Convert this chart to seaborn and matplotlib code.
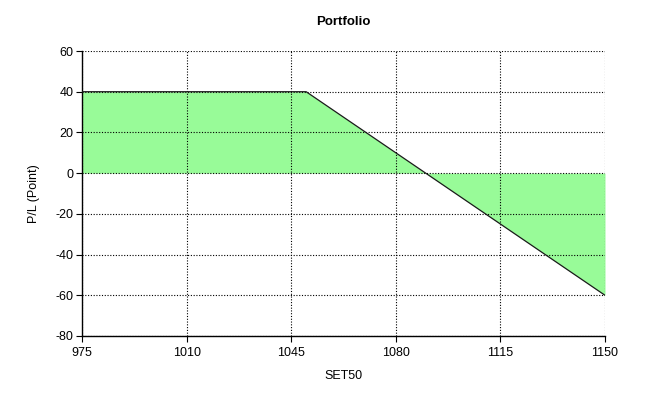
import matplotlib
matplotlib.use("Agg")
import matplotlib.pyplot as plt
import seaborn as sns
import numpy as np
import pandas as pd

x_vals = [975, 1050, 1150]
pl_vals = [40, 40, -60]
x_ticks = [975, 1010, 1045, 1080, 1115, 1150]
y_ticks = [-80, -60, -40, -20, 0, 20, 40, 60]

sns.set_theme(style="white")
plt.rcParams['font.family'] = ['Liberation Sans', 'DejaVu Sans']
plt.rcParams['axes.unicode_minus'] = False

fig = plt.figure(figsize=(6.46, 4.01), dpi=100)
ax = fig.add_axes([82/646, 1-336/401, (605-82)/646, (336-51)/401])

df = pd.DataFrame({"SET50": x_vals, "PL": pl_vals})
xa = np.array(x_vals, dtype=float)
ya = np.array(pl_vals, dtype=float)
ax.fill_between(xa, ya, 0, color="#98FB98", interpolate=True, linewidth=0, zorder=1)
sns.lineplot(data=df, x="SET50", y="PL", ax=ax, color="#1a1a1a", linewidth=0.9, zorder=3)

ax.set_xlim(975, 1150)
ax.set_ylim(-80, 60)
ax.set_xticks(x_ticks)
ax.set_yticks(y_ticks)
ax.grid(True, color="black", linestyle=(0, (1, 1.5)), linewidth=0.8, zorder=2)
ax.set_axisbelow(False)
for s in ["top", "right"]:
    ax.spines[s].set_visible(False)
for s in ["left", "bottom"]:
    ax.spines[s].set_color("black")
    ax.spines[s].set_linewidth(1.0)
ax.tick_params(axis="both", direction="out", length=4, width=0.8, color="black",
               labelsize=9, labelcolor="black", bottom=True, left=True)
ax.tick_params(axis="x", pad=4)
ax.tick_params(axis="y", pad=2)

ax.set_xlabel("SET50", fontsize=9, color="black", labelpad=8)
ax.set_ylabel("P/L (Point)", fontsize=9, color="black", labelpad=11)
ax.set_title("Portfolio", fontsize=9.5, fontweight="bold", color="black", pad=19)

fig.savefig("out.png", dpi=100)
